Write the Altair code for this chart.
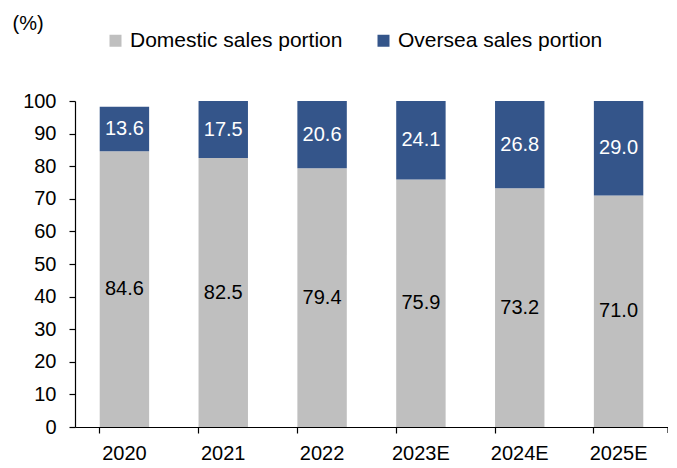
import altair as alt
import pandas as pd

years = ["2020", "2021", "2022", "2023E", "2024E", "2025E"]
domestic = [84.6, 82.5, 79.4, 75.9, 73.2, 71.0]
oversea = [13.6, 17.5, 20.6, 24.1, 26.8, 29.0]
series = ["Domestic sales portion", "Oversea sales portion"]
colors = ["#BFBFBF", "#34558A"]
label_colors = ["#000000", "#FFFFFF"]
y_ticks = [0, 10, 20, 30, 40, 50, 60, 70, 80, 90, 100]

rows = []
for i, y in enumerate(years):
    rows.append({"year": y, "series": series[0], "value": domestic[i], "ord": 0})
    rows.append({"year": y, "series": series[1], "value": oversea[i], "ord": 1})
df = pd.DataFrame(rows)

FONT = "Liberation Sans"
FS = 20

x_axis = alt.Axis(title=None, labelAngle=0, labelFont=FONT, labelFontSize=FS,
                  labelColor="#000", domainColor="#000", tickColor="#000",
                  tickSize=6, bandPosition=0, labelPadding=10,
                  grid=False, domainWidth=1.2, tickWidth=1.2)
x_scale = alt.Scale(paddingInner=0.5, paddingOuter=0.25)

y_axis = alt.Axis(title="(%)", titleAngle=0, titleX=-63, titleY=-78,
                  titleAlign="left", titleBaseline="middle",
                  titleFont=FONT, titleFontSize=FS, titleFontWeight="normal",
                  titleColor="#000",
                  values=y_ticks, labelOverlap=False,
                  labelFont=FONT, labelFontSize=FS, labelColor="#000",
                  domainColor="#000", tickColor="#000", tickSize=6,
                  grid=False, labelPadding=13, domainWidth=1.2, tickWidth=1.2)
y_scale = alt.Scale(domain=[0, 100])

base = alt.Chart(df).transform_stack(
    stack="value", groupby=["year"], as_=["v0", "v1"],
    sort=[alt.SortField("ord", order="ascending")]
).transform_calculate(mid="(datum.v0 + datum.v1) / 2")

bars = base.mark_bar().encode(
    x=alt.X("year:N", sort=years, scale=x_scale, axis=x_axis),
    y=alt.Y("v0:Q", scale=y_scale, axis=y_axis),
    y2="v1:Q",
    color=alt.Color("series:N", scale=alt.Scale(domain=series, range=colors),
                    legend=alt.Legend(title=None, orient="none", legendX=30, legendY=-71,
                                      direction="horizontal", symbolType="square",
                                      symbolSize=144, symbolStrokeWidth=0,
                                      labelFont=FONT, labelFontSize=21, labelColor="#000",
                                      labelOffset=4, columnPadding=30, labelLimit=400)),
    order=alt.Order("ord:Q"),
)

labels = base.mark_text(font=FONT, fontSize=FS, baseline="middle").encode(
    x=alt.X("year:N", sort=years, scale=x_scale, axis=x_axis),
    y=alt.Y("mid:Q", scale=y_scale, axis=y_axis),
    text=alt.Text("value:Q", format=".1f"),
    color=alt.Color("series:N", scale=alt.Scale(domain=series, range=label_colors), legend=None),
)

end_tick = alt.Chart(pd.DataFrame({"a": [0]})).mark_rule(color="#000", strokeWidth=1.2).encode(
    x=alt.value(593), y=alt.value(326), y2=alt.value(332))

chart = alt.layer(bars, labels, end_tick).resolve_scale(color="independent").properties(
    width=593, height=326,
    autosize=alt.AutoSizeParams(type="none"),
    padding={"left": 67, "top": 93, "right": 0, "bottom": 40},
).configure_view(stroke=None)

chart.save("out.html", embed_options={"renderer": "svg", "actions": False})
